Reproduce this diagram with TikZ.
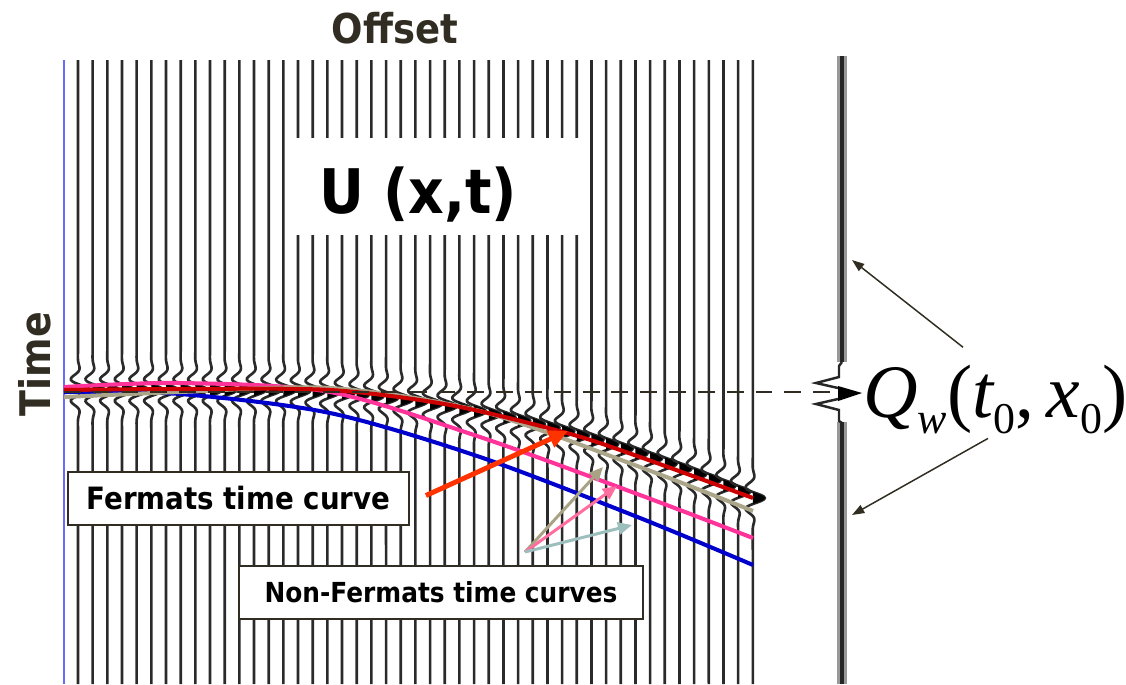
\documentclass[tikz,border=0pt]{standalone}
\usepackage{fontspec}
\newfontfamily\labfont[FakeStretch=0.9]{DejaVu Sans}
\newfontfamily\qfont{Liberation Serif}
\usetikzlibrary{arrows.meta,calc,positioning}
\definecolor{ink}{HTML}{312D22}
\definecolor{tracegray}{HTML}{2A2A2A}
\definecolor{axisblue}{HTML}{6A6AFF}
\definecolor{fermred}{HTML}{CC0000}
\definecolor{sand}{HTML}{ABA58A}
\definecolor{hotpink}{HTML}{FF3399}
\definecolor{deepblue}{HTML}{0000CC}
\definecolor{flame}{HTML}{FF3300}
\definecolor{rosearrow}{HTML}{FF6E9E}
\definecolor{sagearrow}{HTML}{A9A386}
\definecolor{mistarrow}{HTML}{9CBFBE}
\newcommand{\qsub}[1]{\raisebox{-0.22em}{\fontsize{25}{25}\selectfont #1}}

\begin{document}
\begin{tikzpicture}[x=0.02cm,y=-0.02cm,
  declare function={tev(\p)=390+0.000427*max(0,\p-250)*max(0,\p-250);
                    wav(\s)=cos(15*\s)*exp(-(\s/16)*(\s/16));},
  trace/.style={draw=tracegray,line width=1.5pt},
  qtrace/.style={draw=black!40,line width=5.5pt,postaction={draw=black!85,line width=2.4pt}},
  curve/.style={line width=2.3pt},
  labbox/.style={draw=ink,line width=1.1pt,fill=white,minimum height=1.06cm,inner sep=0pt,font=\labfont\bfseries},
  smallarrow/.style={-{Triangle[length=8pt,width=7pt]},line width=1.7pt},
  qarrow/.style={-{Triangle[length=7pt,width=5pt]},line width=0.85pt,color=ink}]
  \useasboundingbox (0,0) rectangle (1126,684);

  \node[font=\labfont\bfseries\fontsize{23.4}{26}\selectfont,color=ink] (offset) at (395,28) {Offset};
  \node[font=\labfont\bfseries\fontsize{24}{26}\selectfont,color=ink,rotate=90] (time) at (35,364) {Time};

  % seismic gather
  \draw[axisblue,line width=0.6pt] (64,60) -- (64,684);
  \foreach \i in {0,...,46} {
    \pgfmathsetmacro{\xt}{78+14.67*\i}
    \pgfmathsetmacro{\te}{tev(\xt)}
    \draw[trace] (\xt,60) -- (\xt,\te-40) -- plot[domain=-40:40,samples=57] ({\xt+12*wav(\x)},{\te+\x}) -- (\xt,684);
    \fill[black] plot[domain=-6:6,samples=13] ({\xt+12*wav(\x)},{\te+\x}) -- cycle;
  }

  \fill[white] (290,138) rectangle (583,235);
  \node[font=\labfont\bfseries\fontsize{35}{38}\selectfont] (uxt) at (418,195) {U (x,t)};

  \draw[curve,deepblue] plot[smooth] coordinates {(64,392) (180,394) (330,413) (480,457) (640,518) (753,565)};
  \draw[curve,hotpink] plot[smooth] coordinates {(64,387) (180,383) (330,392) (480,437) (640,495) (753,538)};
  \draw[curve,sand] plot[smooth] coordinates {(64,397) (180,392) (330,388) (480,411) (640,467) (753,511)};
  \draw[curve,fermred] plot[smooth] coordinates {(64,390) (180,389) (330,390) (450,405) (567,433) (640,457) (753,498)};

  % single trace Q_w
  \coordinate (qtop) at (842,56);
  \coordinate (qbot) at (842,684);
  \draw[qtrace] (qtop) -- (842,362);
  \draw[qtrace] (842,422) -- (qbot);
  \draw[black!85,line width=1.4pt] (842,362) -- (839,366) -- (839,377) -- (816,383) -- (838,388);
  \draw[black!85,line width=1.4pt] (838,399) -- (816,404) -- (839,410) -- (839,421) -- (842,423);
  \fill[black] (838,386) -- (862,393) -- (838,401) -- cycle;

  \coordinate (dstart) at (64,392);
  \coordinate (dend) at (836,392);
  \draw[ink,line width=1.1pt,dash pattern=on 9.6pt off 6.8pt] (dstart) -- (dend);

  \node[anchor=base west,inner sep=0pt,font=\qfont\fontsize{43}{43}\selectfont] (qlab) at (863,417)
    {\itshape Q\qsub{w}\upshape(\itshape t\qsub{\upshape 0}\upshape,\,\itshape x\qsub{\upshape 0}\upshape)};
  \coordinate (qup) at (852,260);
  \coordinate (qdown) at (852,515);
  \draw[qarrow] ($(qlab.north west)+(100,-17)$) -- (qup);
  \draw[qarrow] ($(qlab.south west)+(125,4)$) -- (qdown);

  % labels and pointers
  \node[labbox,minimum width=6.82cm,font=\labfont\bfseries\fontsize{17.5}{20}\selectfont] (ferm) at (238.5,498.5) {Fermats time curve};
  \node[labbox,minimum width=8.08cm,font=\labfont\bfseries\fontsize{15.7}{18}\selectfont] (nonferm) at (441,592.5) {Non-Fermats time curves};

  \coordinate (fermtip) at (568,431);
  \draw[-{Triangle[length=11pt,width=10pt]},flame,line width=2.8pt] ($(ferm.east)+(16,-3)$) -- (fermtip);

  \coordinate (nfroot) at (525,552);
  \coordinate (nf1) at (603,467);
  \coordinate (nf2) at (617,486);
  \coordinate (nf3) at (632,525);
  \foreach \n/\col in {nf1/sagearrow,nf2/rosearrow,nf3/mistarrow}
    \draw[smallarrow,\col] (nfroot) -- (\n);
\end{tikzpicture}
\end{document}
